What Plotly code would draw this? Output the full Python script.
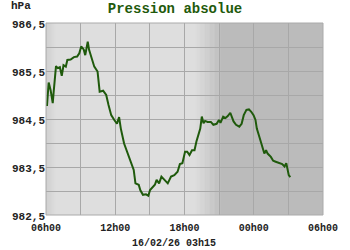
import plotly.graph_objects as go
from datetime import datetime, timedelta

# ---- data ----
times = [
    "2026-02-15 06:05", "2026-02-15 06:14", "2026-02-15 06:24", "2026-02-15 06:35", "2026-02-15 06:40",
    "2026-02-15 06:52", "2026-02-15 07:01", "2026-02-15 07:12", "2026-02-15 07:22", "2026-02-15 07:31",
    "2026-02-15 07:43", "2026-02-15 07:51", "2026-02-15 08:08", "2026-02-15 08:25", "2026-02-15 08:42",
    "2026-02-15 08:53", "2026-02-15 09:03", "2026-02-15 09:16", "2026-02-15 09:24", "2026-02-15 09:37",
    "2026-02-15 09:44", "2026-02-15 09:54", "2026-02-15 10:11", "2026-02-15 10:28", "2026-02-15 10:39",
    "2026-02-15 10:57", "2026-02-15 11:13", "2026-02-15 11:25", "2026-02-15 11:39", "2026-02-15 11:55",
    "2026-02-15 12:09", "2026-02-15 12:20", "2026-02-15 12:29", "2026-02-15 12:46", "2026-02-15 13:11",
    "2026-02-15 13:36", "2026-02-15 13:45", "2026-02-15 14:02", "2026-02-15 14:10", "2026-02-15 14:24",
    "2026-02-15 14:40", "2026-02-15 14:52", "2026-02-15 15:01", "2026-02-15 15:14", "2026-02-15 15:26",
    "2026-02-15 15:35", "2026-02-15 15:48", "2026-02-15 16:00", "2026-02-15 16:16", "2026-02-15 16:33",
    "2026-02-15 16:50", "2026-02-15 17:07", "2026-02-15 17:24", "2026-02-15 17:36", "2026-02-15 17:49",
    "2026-02-15 18:03", "2026-02-15 18:14", "2026-02-15 18:26", "2026-02-15 18:39", "2026-02-15 18:52",
    "2026-02-15 19:02", "2026-02-15 19:13", "2026-02-15 19:22", "2026-02-15 19:30", "2026-02-15 19:39",
    "2026-02-15 19:47", "2026-02-15 20:00", "2026-02-15 20:17", "2026-02-15 20:30", "2026-02-15 20:47",
    "2026-02-15 20:59", "2026-02-15 21:07", "2026-02-15 21:21", "2026-02-15 21:33", "2026-02-15 21:45",
    "2026-02-15 21:58", "2026-02-15 22:07", "2026-02-15 22:15", "2026-02-15 22:28", "2026-02-15 22:45",
    "2026-02-15 22:57", "2026-02-15 23:08", "2026-02-15 23:22", "2026-02-15 23:35", "2026-02-15 23:47",
    "2026-02-15 23:59", "2026-02-16 00:09", "2026-02-16 00:16", "2026-02-16 00:29", "2026-02-16 00:43",
    "2026-02-16 00:55", "2026-02-16 01:04", "2026-02-16 01:12", "2026-02-16 01:29", "2026-02-16 01:41",
    "2026-02-16 01:54", "2026-02-16 02:11", "2026-02-16 02:28", "2026-02-16 02:40", "2026-02-16 02:49",
    "2026-02-16 03:02", "2026-02-16 03:10",
]
pressure = [
    984.77, 985.26, 985.10, 984.83, 985.07,
    985.60, 985.56, 985.58, 985.40, 985.62,
    985.59, 985.73, 985.74, 985.79, 985.80,
    985.87, 986.01, 985.95, 985.83, 986.11,
    985.94, 985.80, 985.59, 985.49, 985.07,
    985.09, 985.00, 984.79, 984.58, 984.48,
    984.40, 984.54, 984.30, 983.99, 983.71,
    983.44, 983.16, 983.13, 983.02, 982.92,
    982.93, 982.90, 983.02, 983.07, 983.13,
    983.23, 983.16, 983.30, 983.23, 983.16,
    983.30, 983.33, 983.40, 983.56, 983.58,
    983.82, 983.82, 983.75, 983.85, 983.85,
    984.03, 984.20, 984.30, 984.55, 984.41,
    984.46, 984.44, 984.44, 984.38, 984.40,
    984.48, 984.42, 984.55, 984.52, 984.56,
    984.63, 984.51, 984.45, 984.38, 984.34,
    984.40, 984.58, 984.69, 984.70, 984.65,
    984.58, 984.48, 984.30, 984.13, 983.92,
    983.78, 983.85, 983.78, 983.71, 983.63,
    983.61, 983.58, 983.56, 983.51, 983.58,
    983.33, 983.29,
]
y_ticks = [982.5, 983.5, 984.5, 985.5, 986.5]
x_start = "2026-02-15 06:00"
x_end = "2026-02-16 06:00"
title_text = "Pression absolue"
unit_text = "hPa"
stamp_text = "16/02/26 03h15"

FONT = "Liberation Mono"
GREEN = "#1f5a0c"
LIGHT = (0xde, 0xde, 0xde)
DARK = (0xbb, 0xbb, 0xbb)
EDGE = (0xcc, 0xcc, 0xcc)

W, H = 350, 250
ML, MR, MT, MB = 43, 22, 23, 35
PW, PH = W - ML - MR, H - MT - MB


def mix(a, b, t):
    return "rgb(%d,%d,%d)" % tuple(round(a[i] + (b[i] - a[i]) * t) for i in range(3))


fmt = "%Y-%m-%d %H:%M"
shapes = []


def gradient(t0, t1, c0, c1, n=24):
    d0 = datetime.strptime(t0, fmt)
    d1 = datetime.strptime(t1, fmt)
    step = (d1 - d0) / n
    for i in range(n):
        a = d0 + step * i
        b = d0 + step * (i + 1) + timedelta(seconds=30)
        shapes.append(dict(type="rect", xref="x", yref="paper", x0=a, x1=b, y0=0, y1=1,
                           fillcolor=mix(c0, c1, (i + 0.5) / n), line=dict(width=0), layer="below"))


gradient("2026-02-15 06:00", "2026-02-15 06:50", EDGE, LIGHT, 12)
gradient("2026-02-15 18:55", "2026-02-15 21:05", LIGHT, DARK, 30)
shapes.append(dict(type="rect", xref="x", yref="paper", x0="2026-02-15 21:05", x1=x_end,
                   y0=0, y1=1, fillcolor=mix(DARK, DARK, 0), line=dict(width=0), layer="below"))
shapes.append(dict(type="rect", xref="paper", yref="paper", x0=0, x1=1, y0=0, y1=1,
                   line=dict(color="#aaaaaa", width=1), layer="above"))

fig = go.Figure()
fig.add_trace(go.Scatter(x=times, y=pressure, mode="lines",
                         line=dict(color=GREEN, width=2), hoverinfo="skip"))

yfont = dict(family=FONT, size=11, color="#222222", weight="bold")
xfont = dict(family=FONT, size=10, color="#222222", weight="bold")
grid = "#a8a8a8"
fig.update_layout(
    width=W, height=H,
    margin=dict(l=ML, r=MR, t=MT, b=MB),
    paper_bgcolor="white",
    plot_bgcolor=mix(LIGHT, LIGHT, 0),
    separators=", ",
    showlegend=False,
    shapes=shapes,
    title=dict(text=title_text, x=0.5, xref="container", xanchor="center",
               y=1 - 8 / H, yref="container", yanchor="middle",
               font=dict(family=FONT, size=14, color=GREEN, weight="bold")),
    xaxis=dict(type="date", range=[x_start, x_end], tick0=x_start, dtick=6 * 3600 * 1000,
               tickformat="%Hh%M", showgrid=True, gridcolor=grid, gridwidth=1,
               minor=dict(dtick=3 * 3600 * 1000, tick0=x_start, showgrid=True,
                          gridcolor=grid, gridwidth=1),
               showline=False, zeroline=False, ticks="", tickfont=xfont, fixedrange=True,
               ticklabelstandoff=5),
    yaxis=dict(range=[y_ticks[0], y_ticks[-1]], tickvals=y_ticks, tickformat=".1f",
               showgrid=True, gridcolor=grid, gridwidth=1,
               minor=dict(dtick=0.5, tick0=y_ticks[0], showgrid=True,
                          gridcolor=grid, gridwidth=1),
               showline=False, zeroline=False, ticks="", tickfont=yfont, fixedrange=True,
               ticklabelshift=1),
    annotations=[
        dict(text=unit_text, xref="paper", yref="paper", x=(5 - ML) / PW, y=1 + (MT - 6) / PH,
             xanchor="left", yanchor="middle", showarrow=False,
             font=dict(family=FONT, size=11, color="#222222", weight="bold")),
        dict(text=stamp_text, xref="paper", yref="paper", x=(175 - ML) / PW, y=-(243 - (H - MB)) / PH,
             xanchor="center", yanchor="middle", showarrow=False,
             font=dict(family=FONT, size=10, color="#222222", weight="bold")),
    ],
)

fig.write_html("out.html")
